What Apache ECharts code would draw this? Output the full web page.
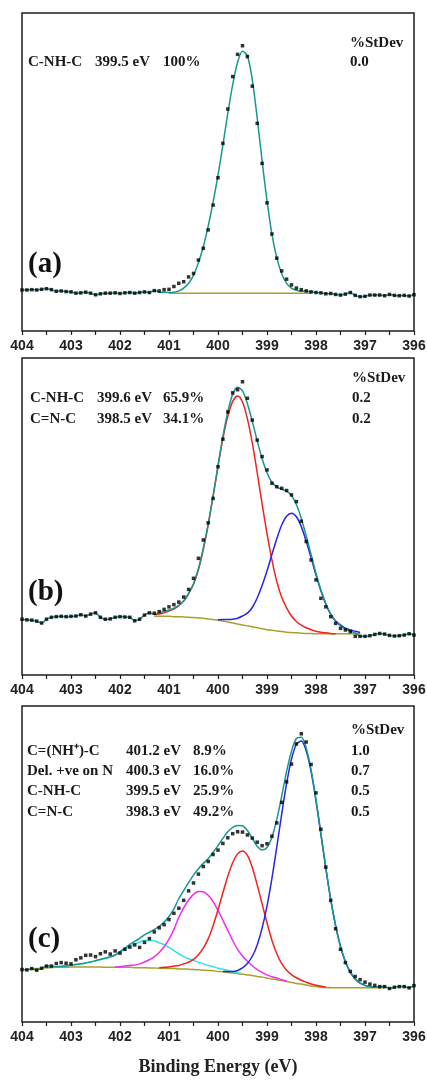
<!DOCTYPE html>
<html>
<head>
<meta charset="utf-8">
<title>N 1s XPS fits</title>
<script src="https://cdn.jsdelivr.net/npm/echarts@6/dist/echarts.min.js"></script>
<style>
    html, body { margin: 0; padding: 0; background: #fff; }
    #chart { width: 427px; height: 1080px; }
</style>
</head>
<body>
<div id="chart"></div>
<script>
var _ = null;

// binding energy of every sample (eV)
var energy = [
    404.0, 403.9, 403.8, 403.7, 403.6, 403.5, 403.4, 403.3, 403.2, 403.1,
    403.0, 402.9, 402.8, 402.7, 402.6, 402.5, 402.4, 402.3, 402.2, 402.1,
    402.0, 401.9, 401.8, 401.7, 401.6, 401.5, 401.4, 401.3, 401.2, 401.1,
    401.0, 400.9, 400.8, 400.7, 400.6, 400.5, 400.4, 400.3, 400.2, 400.1,
    400.0, 399.9, 399.8, 399.7, 399.6, 399.5, 399.4, 399.3, 399.2, 399.1,
    399.0, 398.9, 398.8, 398.7, 398.6, 398.5, 398.4, 398.3, 398.2, 398.1,
    398.0, 397.9, 397.8, 397.7, 397.6, 397.5, 397.4, 397.3, 397.2, 397.1,
    397.0, 396.9, 396.8, 396.7, 396.6, 396.5, 396.4, 396.3, 396.2, 396.1,
    396.0
];

/* ---------- panel (a) ---------- */
var dataA = [
    12.9, 12.9, 13.0, 12.9, 13.1, 13.3, 13.0, 12.5, 12.6, 12.4,
    12.3, 11.9, 12.0, 12.2, 11.9, 11.4, 11.7, 11.9, 11.9, 12.0,
    11.8, 12.0, 12.1, 11.9, 12.1, 12.3, 12.1, 12.7, 12.6, 13.0,
    13.1, 14.0, 15.0, 15.5, 17.0, 18.1, 22.3, 26.0, 31.8, 39.6,
    48.2, 59.0, 69.8, 80.0, 87.0, 89.7, 86.3, 77.0, 65.3, 52.7,
    40.3, 30.5, 22.9, 18.9, 16.3, 14.5, 13.5, 13.0, 12.6, 12.3,
    12.1, 12.0, 11.7, 11.8, 11.5, 11.3, 11.6, 12.1, 11.2, 10.8,
    10.9, 11.3, 11.3, 11.3, 11.1, 11.5, 11.2, 11.1, 11.2, 11.0,
    11.4
];
var fitA = [
    _, _, _, _, _, _, _, _, _, _,
    _, _, _, _, _, _, _, _, _, _,
    _, _, _, _, _, _, _, _, 12.3, 12.2,
    12.1, 12.2, 12.6, 13.5, 15.0, 17.5, 21.5, 26.5, 33.0, 40.5,
    49.0, 58.5, 68.5, 77.5, 84.5, 88.0, 86.5, 79.0, 67.0, 53.5,
    41.0, 30.5, 23.0, 18.0, 15.0, 13.5, 12.8, 12.5, _, _,
    _, _, _, _, _, _, _, _, _, _,
    _, _, _, _, _, _, _, _, _, _,
    _
];
var bgA = [
    _, _, _, _, _, _, _, _, _, _,
    _, _, _, _, _, _, _, _, _, _,
    _, _, _, _, _, _, _, _, _, _,
    11.9, 11.9, 11.9, 11.9, 11.9, 11.9, 11.9, 11.9, 11.9, 11.9,
    11.9, 11.9, 11.9, 11.9, 11.9, 11.9, 11.9, 11.9, 11.9, 11.9,
    11.9, 11.9, 11.9, 11.9, 11.9, 11.9, 11.9, 11.9, 11.9, 11.9,
    _, _, _, _, _, _, _, _, _, _,
    _, _, _, _, _, _, _, _, _, _,
    _
];
var peaksA = [['C-NH-C', '399.5 eV', '100%']];
var stdevA = ['0.0'];

/* ---------- panel (b) ---------- */
var dataB = [
    17.6, 17.4, 17.3, 17.0, 16.4, 17.6, 18.2, 18.4, 18.5, 18.4,
    18.5, 18.6, 19.0, 18.6, 19.2, 19.6, 18.2, 17.6, 17.7, 18.2,
    18.4, 18.3, 18.2, 17.1, 17.6, 18.9, 19.6, 19.5, 20.0, 20.7,
    21.5, 22.2, 23.0, 24.6, 27.0, 30.5, 36.8, 42.6, 48.0, 55.7,
    65.7, 74.4, 83.0, 89.0, 90.0, 92.5, 87.3, 80.4, 74.1, 68.9,
    64.7, 60.5, 59.4, 58.9, 58.2, 56.8, 54.7, 48.5, 42.1, 36.3,
    30.0, 24.2, 21.5, 18.4, 16.3, 14.7, 14.2, 13.7, 12.2, 12.2,
    12.2, 12.4, 12.8, 13.1, 12.9, 12.5, 12.3, 12.4, 12.6, 13.0,
    12.6
];
var fitB = [
    _, _, _, _, _, _, _, _, _, _,
    _, _, _, _, _, _, _, _, _, _,
    _, _, _, _, _, _, _, 19.2, 19.6, 20.0,
    20.5, 21.1, 22.0, 23.4, 25.7, 28.8, 33.5, 40.0, 47.6, 56.5,
    66.0, 75.3, 83.0, 88.6, 90.8, 89.6, 85.6, 80.0, 73.9, 68.2,
    63.8, 60.8, 59.3, 58.6, 58.0, 56.6, 53.8, 49.4, 43.9, 38.0,
    32.0, 26.8, 22.5, 19.3, 17.0, 15.5, 14.5, 13.8, 13.3, _,
    _, _, _, _, _, _, _, _, _, _,
    _
];
var bgB = [
    _, _, _, _, _, _, _, _, _, _,
    _, _, _, _, _, _, _, _, _, _,
    _, _, _, _, _, _, _, 18.5, 18.5, 18.5,
    18.5, 18.4, 18.4, 18.3, 18.2, 18.1, 18.0, 17.9, 17.7, 17.5,
    17.3, 17.0, 16.7, 16.4, 16.1, 15.8, 15.5, 15.2, 14.9, 14.6,
    14.3, 14.1, 13.9, 13.7, 13.5, 13.4, 13.3, 13.2, 13.1, 13.1,
    13.0, 13.0, 13.0, 13.0, 13.0, 13.0, 13.0, 13.0, 13.0, 13.0,
    _, _, _, _, _, _, _, _, _, _,
    _
];
var redB = [
    _, _, _, _, _, _, _, _, _, _,
    _, _, _, _, _, _, _, _, _, _,
    _, _, _, _, _, _, _, 19.0, 19.2, 19.6,
    20.2, 20.8, 21.9, 23.3, 25.7, 28.6, 33.2, 39.6, 47.4, 56.4,
    65.8, 74.6, 81.6, 86.3, 88.0, 86.1, 80.8, 73.2, 63.8, 54.0,
    44.6, 36.3, 29.5, 24.5, 21.2, 18.6, 16.9, 15.7, 14.9, 14.3,
    13.8, 13.5, 13.3, 13.1, 13.0, _, _, _, _, _,
    _, _, _, _, _, _, _, _, _, _,
    _
];
var blueB = [
    _, _, _, _, _, _, _, _, _, _,
    _, _, _, _, _, _, _, _, _, _,
    _, _, _, _, _, _, _, _, _, _,
    _, _, _, _, _, _, _, _, _, _,
    17.4, 17.5, 17.5, 17.6, 17.9, 18.6, 19.5, 21.3, 24.3, 28.2,
    32.8, 38.0, 43.0, 47.3, 50.1, 51.0, 49.9, 46.8, 42.2, 37.0,
    31.5, 26.6, 22.4, 19.1, 17.0, 15.8, 14.8, 14.2, 13.8, 13.4,
    _, _, _, _, _, _, _, _, _, _,
    _
];
var peaksB = [['C-NH-C', '399.6 eV', '65.9%'], ['C=N-C', '398.5 eV', '34.1%']];
var stdevB = ['0.2', '0.2'];

/* ---------- panel (c) ---------- */
var dataC = [
    16.6, 16.5, 16.9, 16.4, 17.0, 17.7, 17.7, 18.5, 18.8, 18.6,
    18.4, 19.7, 20.3, 21.1, 21.2, 20.7, 21.6, 22.2, 21.5, 22.5,
    21.8, 23.0, 23.7, 24.4, 23.6, 25.2, 26.4, 28.5, 29.8, 30.8,
    32.4, 34.4, 36.0, 38.5, 41.5, 44.0, 46.8, 49.2, 50.8, 53.0,
    54.4, 56.5, 58.3, 59.6, 60.2, 60.1, 59.2, 58.2, 56.9, 55.8,
    56.4, 58.8, 63.0, 69.5, 76.0, 81.6, 88.0, 91.2, 88.6, 81.5,
    72.5, 61.0, 49.0, 38.5, 29.5, 23.0, 18.8, 16.0, 14.4, 13.4,
    12.6, 12.0, 11.6, 11.2, 11.2, 10.6, 11.0, 11.2, 11.2, 10.8,
    11.5
];
var fitC = [
    _, _, _, _, _, _, _, 17.5, 17.6, 17.7,
    18.0, 18.2, 18.4, 18.7, 19.0, 19.4, 19.8, 20.2, 20.6, 21.2,
    22.3, 23.4, 24.6, 25.5, 26.5, 27.6, 28.4, 29.3, 30.3, 31.6,
    33.4, 35.8, 39.0, 41.6, 44.1, 46.5, 48.5, 50.2, 51.7, 53.7,
    55.8, 58.1, 60.2, 61.6, 62.2, 62.1, 60.6, 58.1, 55.6, 54.4,
    55.2, 58.4, 64.1, 71.5, 79.3, 85.7, 89.7, 90.1, 86.7, 79.8,
    70.4, 59.7, 48.9, 38.8, 30.5, 23.9, 19.1, 15.8, 13.6, 12.3,
    11.6, 11.2, 11.0, _, _, _, _, _, _, _,
    _
];
var bgC = [
    _, _, 16.8, 16.9, 17.0, 17.1, 17.2, 17.3, 17.3, 17.3,
    17.4, 17.4, 17.4, 17.4, 17.4, 17.4, 17.4, 17.3, 17.3, 17.3,
    17.3, 17.3, 17.3, 17.2, 17.2, 17.2, 17.1, 17.1, 17.0, 17.0,
    16.9, 16.9, 16.8, 16.8, 16.7, 16.6, 16.5, 16.4, 16.3, 16.2,
    16.0, 15.9, 15.7, 15.5, 15.3, 15.1, 14.9, 14.7, 14.4, 14.2,
    13.9, 13.6, 13.4, 13.1, 12.8, 12.5, 12.2, 12.0, 11.7, 11.4,
    11.2, 11.0, 10.9, 10.8, 10.8, 10.8, 10.8, 10.8, 10.8, 10.8,
    10.8, 10.8, 10.8, 10.8, 10.8, _, _, _, _, _,
    _
];
var cyanC = [
    _, _, _, _, _, _, _, 17.5, 17.6, 17.7,
    18.0, 18.2, 18.4, 18.7, 19.0, 19.4, 19.8, 20.2, 20.6, 21.2,
    22.1, 23.0, 24.0, 24.7, 25.3, 25.8, 25.8, 25.7, 25.1, 24.5,
    23.6, 22.6, 21.6, 20.7, 20.0, 19.5, 18.9, 18.4, 17.9, 17.5,
    17.0, 16.7, 16.3, 15.9, 15.6, 15.3, _, _, _, _,
    _, _, _, _, _, _, _, _, _, _,
    _, _, _, _, _, _, _, _, _, _,
    _, _, _, _, _, _, _, _, _, _,
    _
];
var magentaC = [
    _, _, _, _, _, _, _, _, _, _,
    _, _, _, _, _, _, _, _, _, 17.4,
    17.5, 17.7, 17.9, 18.0, 18.4, 19.0, 19.7, 20.7, 22.0, 23.8,
    26.2, 29.3, 33.1, 36.1, 38.6, 40.4, 41.3, 41.2, 40.1, 38.1,
    35.3, 32.2, 29.0, 25.8, 23.0, 20.9, 19.2, 17.8, 16.6, 15.7,
    14.9, 14.3, 13.9, 13.4, 13.0, _, _, _, _, _,
    _, _, _, _, _, _, _, _, _, _,
    _, _, _, _, _, _, _, _, _, _,
    _
];
var redC = [
    _, _, _, _, _, _, _, _, _, _,
    _, _, _, _, _, _, _, _, _, _,
    _, _, _, _, _, _, _, _, 17.2, 17.3,
    17.4, 17.7, 17.9, 18.4, 18.9, 19.8, 21.3, 23.4, 26.3, 30.5,
    35.5, 40.9, 46.1, 50.4, 53.2, 54.1, 52.7, 48.9, 43.4, 37.4,
    31.4, 25.9, 21.6, 18.5, 16.4, 15.0, 14.0, 13.2, 12.6, 12.0,
    11.6, 11.3, 11.1, _, _, _, _, _, _, _,
    _, _, _, _, _, _, _, _, _, _,
    _
];
var blueC = [
    _, _, _, _, _, _, _, _, _, _,
    _, _, _, _, _, _, _, _, _, _,
    _, _, _, _, _, _, _, _, _, _,
    _, _, _, _, _, _, _, _, _, _,
    _, 16.0, 16.0, 16.0, 16.3, 17.1, 18.5, 20.8, 24.4, 29.7,
    36.7, 45.4, 55.4, 65.8, 75.5, 83.2, 87.9, 88.9, 85.8, 79.2,
    70.0, 59.4, 48.7, 38.8, 30.5, 23.9, 19.1, 15.8, 13.6, 12.3,
    11.6, 11.2, 11.0, _, _, _, _, _, _, _,
    _
];
var peaksC = [
    ['C=(NH\u207A)-C', '401.2 eV', '8.9%'],
    ['Del. +ve on N', '400.3 eV', '16.0%'],
    ['C-NH-C', '399.5 eV', '25.9%'],
    ['C=N-C', '398.3 eV', '49.2%']
];
var stdevC = ['1.0', '0.7', '0.5', '0.5'];

var TEAL = '#16988e', OLIVE = '#a9a02c', RED = '#f2221e', BLUE = '#2626e6',
    MAGENTA = '#f22af2', CYAN = '#33e2e2';
var SERIF = '"Liberation Serif", "Times New Roman", serif';
var SANS = '"Liberation Sans", Arial, sans-serif';

var panels = [
    {top: 13, height: 318, data: dataA, fit: fitA, bg: bgA, comps: [],
        peaks: peaksA, stdev: stdevA, tag: '(a)', tagY: 265, headY: 43, rowY: [62], cols: [28, 95, 163], sdX: 350},
    {top: 358, height: 317, data: dataB, fit: fitB, bg: bgB, comps: [[redB, RED], [blueB, BLUE]],
        peaks: peaksB, stdev: stdevB, tag: '(b)', tagY: 593, headY: 378, rowY: [398, 419], cols: [30, 97, 163], sdX: 352},
    {top: 706, height: 316, data: dataC, fit: fitC, bg: bgC,
        comps: [[cyanC, CYAN], [magentaC, MAGENTA], [redC, RED], [blueC, BLUE]],
        peaks: peaksC, stdev: stdevC, tag: '(c)', tagY: 940, headY: 730, rowY: [751, 771, 791, 812], cols: [27, 126, 193], sdX: 351}
];

function pairs(arr) {
    return energy.map(function (e, k) {
        return [e, arr[k]];
    });
}

// envelope: fitted curve where there is one, measured trace elsewhere
function envelope(fit, data) {
    return fit.map(function (v, k) {
        return v != null ? v : data[k];
    });
}

function lineSeries(p, arr, color, z) {
    return {
        type: 'line',
        xAxisIndex: p,
        yAxisIndex: p,
        data: pairs(arr),
        showSymbol: false,
        smooth: 0.3,
        silent: true,
        z: z,
        lineStyle: {color: color, width: 1.5},
        itemStyle: {color: color}
    };
}

var grids = [], xAxes = [], yAxes = [], series = [], texts = [];

panels.forEach(function (pn, p) {
    grids.push({
        left: 22, width: 392, top: pn.top, height: pn.height,
        show: true, borderColor: '#1e1e1e', borderWidth: 1.5,
        outerBoundsMode: 'none'
    });
    var xa = {
        type: 'value', gridIndex: p, min: 396, max: 404, interval: 1, inverse: true,
        axisLine: {show: false},
        axisTick: {show: true, inside: false, length: 4, lineStyle: {color: '#1e1e1e', width: 1.2}},
        minorTick: {show: true, splitNumber: 2, length: 4, lineStyle: {color: '#1e1e1e', width: 1.2}},
        splitLine: {show: false},
        minorSplitLine: {show: false},
        axisLabel: {color: '#222', fontFamily: SANS, fontWeight: 'bold', fontSize: 14, margin: 8}
    };
    if (p === panels.length - 1) {
        xa.name = 'Binding Energy (eV)';
        xa.nameLocation = 'middle';
        xa.nameGap = 36;
        xa.nameTextStyle = {color: '#222', fontFamily: SERIF, fontWeight: 'bold', fontSize: 18};
    }
    xAxes.push(xa);
    yAxes.push({type: 'value', gridIndex: p, min: 0, max: 100, show: false});

    series.push(lineSeries(p, pn.bg, OLIVE, 2));
    pn.comps.forEach(function (c) {
        series.push(lineSeries(p, c[0], c[1], 3));
    });
    series.push(lineSeries(p, envelope(pn.fit, pn.data), TEAL, 4));
    series.push({
        type: 'scatter',
        xAxisIndex: p,
        yAxisIndex: p,
        data: pairs(pn.data),
        symbol: 'rect',
        symbolSize: 3.5,
        silent: true,
        z: 5,
        itemStyle: {color: '#000'}
    });

    // peak table
    pn.peaks.forEach(function (row, r) {
        row.forEach(function (cell, c) {
            texts.push({
                type: 'text', x: pn.cols[c], y: pn.rowY[r],
                style: {text: cell, font: 'bold 15px ' + SERIF, fill: '#1a1a1a', verticalAlign: 'middle'}
            });
        });
        texts.push({
            type: 'text', x: pn.sdX, y: pn.rowY[r],
            style: {text: pn.stdev[r], font: 'bold 15px ' + SERIF, fill: '#1a1a1a', verticalAlign: 'middle'}
        });
    });
    texts.push({
        type: 'text', x: pn.sdX, y: pn.headY,
        style: {text: '%StDev', font: 'bold 15px ' + SERIF, fill: '#1a1a1a', verticalAlign: 'middle'}
    });
    texts.push({
        type: 'text', x: 28, y: pn.tagY,
        style: {text: pn.tag, font: 'bold 29px ' + SERIF, fill: '#111', verticalAlign: 'middle'}
    });
});

var chart = echarts.init(document.getElementById('chart'));
chart.setOption({
    animation: false,
    backgroundColor: '#fff',
    grid: grids,
    xAxis: xAxes,
    yAxis: yAxes,
    series: series,
    graphic: texts
});

window.onresize = function () {
    chart.resize();
};
</script>
</body>
</html>
